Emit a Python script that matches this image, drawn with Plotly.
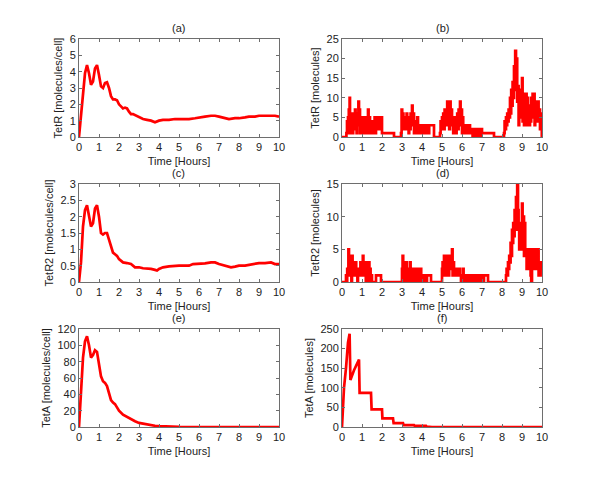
import plotly.graph_objects as go

# ---------------- data ----------------
# (a) TetR mean [molecules/cell]
t_a = [0, 0.1, 0.2, 0.3, 0.4, 0.5, 0.6, 0.7, 0.8, 0.9, 1.0, 1.1, 1.2, 1.3, 1.4, 1.5, 1.6, 1.7, 1.8, 1.9,
       2.0, 2.1, 2.2, 2.3, 2.4, 2.5, 2.6, 2.7, 2.8, 2.9, 3.0, 3.2, 3.4, 3.6, 3.8, 4.0, 4.2, 4.5, 4.8,
       5.0, 5.3, 5.5, 5.8, 6.0, 6.3, 6.6, 6.8, 7.0, 7.2, 7.5, 7.8, 8.0, 8.3, 8.5, 8.8, 9.0, 9.3, 9.5, 9.8, 10.0]
v_a = [0, 1.3, 2.9, 3.9, 4.4, 3.9, 3.2, 3.4, 4.2, 4.4, 3.8, 3.1, 3.0, 3.3, 3.35, 3.0, 2.5, 2.3, 2.3, 2.25,
       2.0, 1.85, 1.75, 1.8, 1.75, 1.55, 1.4, 1.4, 1.35, 1.3, 1.2, 1.1, 1.05, 1.0, 0.9, 1.0, 1.05, 1.05, 1.1,
       1.1, 1.1, 1.1, 1.15, 1.2, 1.25, 1.3, 1.3, 1.25, 1.2, 1.1, 1.15, 1.15, 1.2, 1.25, 1.25, 1.3, 1.3, 1.3, 1.3, 1.25]

# (b) TetR single cell [molecules]
tb_pairs = [(0, 0), (0.22, 1), (0.25, 4), (0.28, 1), (0.30, 5), (0.32, 2), (0.34, 7), (0.36, 3), (0.38, 10),
            (0.40, 4), (0.42, 1), (0.45, 6), (0.48, 2), (0.50, 5), (0.53, 1), (0.56, 4), (0.58, 2), (0.60, 6),
            (0.63, 3), (0.65, 7), (0.68, 2), (0.70, 5), (0.73, 1), (0.76, 6), (0.79, 3), (0.82, 9), (0.85, 4),
            (0.88, 7), (0.90, 1), (0.93, 5), (0.96, 2), (1.00, 4), (1.03, 1), (1.06, 5), (1.09, 2), (1.12, 3),
            (1.15, 1), (1.18, 5), (1.21, 2), (1.24, 4), (1.27, 1), (1.30, 7), (1.33, 3), (1.36, 5), (1.40, 1),
            (1.43, 4), (1.46, 2), (1.50, 3), (1.53, 1), (1.56, 4), (1.60, 2), (1.63, 5), (1.66, 1), (1.70, 4),
            (1.73, 2), (1.76, 5), (1.80, 3), (1.83, 5), (1.86, 2), (1.90, 5), (1.93, 3), (1.96, 5), (2.00, 1),
            (2.60, 0), (2.95, 1), (2.98, 7), (3.01, 4), (3.04, 6), (3.07, 2), (3.10, 5), (3.13, 3), (3.16, 4),
            (3.20, 2), (3.23, 6), (3.26, 3), (3.30, 4), (3.33, 1), (3.36, 5), (3.40, 2), (3.43, 6), (3.46, 3),
            (3.50, 8), (3.53, 4), (3.56, 6), (3.60, 1), (3.63, 3), (3.66, 1), (3.70, 4), (3.73, 2), (3.76, 5),
            (3.80, 1), (3.83, 3), (3.86, 1), (3.90, 3), (3.93, 1), (3.96, 3), (4.00, 1), (4.03, 3), (4.06, 2),
            (4.10, 3), (4.13, 1), (4.16, 3), (4.20, 1), (4.23, 3), (4.26, 2), (4.30, 3), (4.33, 1), (4.36, 3),
            (4.40, 3), (4.60, 0), (4.90, 1), (4.93, 4), (4.96, 2), (5.00, 5), (5.03, 3), (5.06, 6), (5.10, 2),
            (5.13, 7), (5.16, 4), (5.20, 7), (5.23, 3), (5.26, 9), (5.30, 5), (5.33, 7), (5.36, 2), (5.40, 9),
            (5.43, 4), (5.46, 7), (5.50, 3), (5.53, 5), (5.56, 1), (5.60, 4), (5.63, 2), (5.66, 5), (5.70, 1),
            (5.73, 3), (5.76, 6), (5.80, 2), (5.83, 7), (5.86, 4), (5.90, 9), (5.93, 3), (5.96, 7), (6.00, 1),
            (6.03, 5), (6.06, 2), (6.10, 3), (6.13, 1), (6.16, 3), (6.20, 1), (6.23, 3), (6.26, 1), (6.30, 2),
            (6.33, 1), (6.36, 3), (6.40, 1), (6.43, 2), (6.46, 1), (6.50, 2), (6.53, 0), (6.56, 2), (6.60, 1),
            (6.63, 2), (6.66, 0), (6.70, 2), (6.73, 1), (6.76, 2), (6.80, 0), (6.83, 2), (6.86, 1), (6.90, 2),
            (6.93, 0), (6.96, 2), (7.00, 1), (7.60, 0), (8.10, 1), (8.13, 4), (8.16, 2), (8.20, 5), (8.23, 3),
            (8.26, 6), (8.30, 4), (8.33, 7), (8.36, 5), (8.40, 10), (8.43, 6), (8.46, 12), (8.50, 8), (8.53, 14),
            (8.56, 10), (8.60, 18), (8.63, 12), (8.66, 22), (8.70, 15), (8.73, 20), (8.76, 9), (8.80, 13),
            (8.83, 3), (8.86, 8), (8.90, 5), (8.93, 12), (8.96, 7), (9.00, 15), (9.03, 4), (9.06, 11), (9.10, 3),
            (9.13, 9), (9.16, 5), (9.20, 11), (9.23, 3), (9.26, 10), (9.30, 4), (9.33, 8), (9.36, 3), (9.40, 7),
            (9.43, 4), (9.46, 10), (9.50, 5), (9.53, 11), (9.56, 6), (9.60, 11), (9.63, 3), (9.66, 9), (9.70, 5),
            (9.73, 8), (9.76, 4), (9.80, 9), (9.83, 5), (9.86, 7), (9.90, 2), (9.93, 6), (9.96, 3), (9.99, 0),
            (10.0, 0)]
t_b = [p[0] for p in tb_pairs]
v_b = [p[1] for p in tb_pairs]

# (c) TetR2 mean [molecules/cell]
t_c = [0, 0.1, 0.2, 0.3, 0.4, 0.5, 0.6, 0.7, 0.8, 0.9, 1.0, 1.1, 1.2, 1.3, 1.4, 1.5, 1.6, 1.7, 1.8, 1.9,
       2.0, 2.2, 2.4, 2.6, 2.8, 3.0, 3.2, 3.4, 3.6, 3.8, 3.9, 4.0, 4.2, 4.5, 4.8, 5.0, 5.3, 5.5, 5.7, 6.0,
       6.3, 6.6, 6.8, 7.0, 7.3, 7.6, 7.8, 8.0, 8.3, 8.5, 8.8, 9.0, 9.3, 9.6, 9.8, 10.0]
v_c = [0, 0.6, 1.7, 2.2, 2.35, 2.0, 1.7, 1.8, 2.25, 2.35, 2.0, 1.5, 1.45, 1.5, 1.5, 1.3, 1.1, 0.9, 0.85, 0.8,
       0.7, 0.6, 0.58, 0.55, 0.45, 0.45, 0.42, 0.42, 0.4, 0.37, 0.35, 0.4, 0.45, 0.48, 0.5, 0.5, 0.5, 0.5, 0.55, 0.55,
       0.57, 0.6, 0.6, 0.55, 0.5, 0.45, 0.47, 0.5, 0.5, 0.52, 0.55, 0.58, 0.58, 0.6, 0.55, 0.55]

# (d) TetR2 single cell [molecules]
td_pairs = [(0, 0), (0.20, 1), (0.23, 0), (0.26, 2), (0.29, 1), (0.32, 5), (0.35, 2), (0.38, 4), (0.41, 1),
            (0.44, 3), (0.47, 0), (0.50, 4), (0.53, 2), (0.56, 3), (0.59, 1), (0.62, 3), (0.65, 2), (0.68, 3),
            (0.71, 1), (0.74, 2), (0.77, 0), (0.80, 2), (0.83, 1), (0.86, 2), (0.89, 1), (0.92, 3), (0.95, 1),
            (0.98, 2), (1.01, 1), (1.04, 4), (1.07, 2), (1.10, 3), (1.13, 1), (1.16, 2), (1.19, 0), (1.22, 3),
            (1.25, 1), (1.28, 2), (1.31, 0), (1.34, 3), (1.37, 1), (1.40, 2), (1.43, 0), (1.46, 1), (1.50, 0),
            (1.70, 1), (1.95, 0), (3.00, 2), (3.03, 4), (3.06, 1), (3.09, 3), (3.12, 0), (3.15, 2), (3.18, 1),
            (3.21, 3), (3.24, 0), (3.27, 2), (3.30, 1), (3.33, 2), (3.36, 0), (3.40, 3), (3.43, 1), (3.46, 2),
            (3.50, 0), (3.53, 2), (3.56, 1), (3.60, 2), (3.63, 0), (3.66, 1), (3.70, 2), (3.73, 0), (3.76, 2),
            (3.80, 1), (3.83, 0), (3.86, 2), (3.90, 1), (3.93, 2), (3.96, 0), (4.00, 1), (4.05, 0), (4.10, 1),
            (4.20, 0), (4.25, 1), (4.45, 0), (5.00, 2), (5.03, 3), (5.06, 1), (5.10, 4), (5.13, 2), (5.16, 3),
            (5.20, 1), (5.23, 4), (5.26, 2), (5.30, 4), (5.33, 1), (5.36, 3), (5.40, 2), (5.43, 4), (5.46, 2),
            (5.50, 5), (5.53, 1), (5.56, 3), (5.60, 1), (5.63, 2), (5.66, 1), (5.70, 2), (5.73, 1), (5.76, 2),
            (5.80, 1), (5.85, 2), (5.90, 1), (5.95, 0), (6.00, 1), (6.05, 2), (6.08, 0), (6.12, 1), (6.16, 0),
            (6.20, 1), (6.25, 0), (6.30, 1), (6.35, 0), (6.40, 1), (6.45, 0), (6.50, 1), (6.55, 0), (6.60, 1),
            (6.65, 0), (6.70, 1), (6.75, 0), (6.80, 1), (6.85, 0), (6.90, 1), (6.95, 0), (7.00, 1), (7.05, 0),
            (7.10, 1), (7.30, 0), (8.20, 1), (8.23, 2), (8.26, 1), (8.30, 3), (8.33, 2), (8.36, 4), (8.40, 3),
            (8.43, 6), (8.46, 4), (8.50, 8), (8.53, 6), (8.56, 9), (8.60, 7), (8.63, 11), (8.66, 8), (8.70, 13),
            (8.73, 10), (8.76, 15), (8.80, 11), (8.83, 8), (8.86, 5), (8.90, 9), (8.93, 6), (8.96, 5), (9.00, 12),
            (9.03, 7), (9.06, 10), (9.10, 4), (9.13, 9), (9.16, 5), (9.20, 4), (9.23, 2), (9.26, 5), (9.30, 3),
            (9.33, 4), (9.36, 2), (9.40, 5), (9.43, 1), (9.46, 0), (9.50, 3), (9.53, 5), (9.56, 2), (9.60, 4),
            (9.63, 3), (9.66, 5), (9.70, 2), (9.73, 4), (9.76, 3), (9.80, 5), (9.83, 1), (9.86, 3), (9.90, 1),
            (9.93, 3), (9.96, 2), (10.0, 2)]
t_d = [p[0] for p in td_pairs]
v_d = [p[1] for p in td_pairs]

# (e) TetA mean [molecules/cell]
t_e = [0, 0.1, 0.2, 0.3, 0.4, 0.5, 0.6, 0.7, 0.8, 0.9, 1.0, 1.1, 1.2, 1.3, 1.4, 1.5, 1.6, 1.7, 1.8, 1.9,
       2.0, 2.2, 2.4, 2.6, 2.8, 3.0, 3.2, 3.5, 3.8, 4.0, 4.5, 5.0, 6.0, 7.0, 8.0, 9.0, 10.0]
v_e = [0, 45, 85, 105, 111, 100, 85, 88, 94, 92, 75, 62, 56, 54, 50, 42, 33, 30, 28, 24,
       20, 15, 12, 9, 7, 5, 4, 2.5, 1.5, 1.0, 0.5, 0.2, 0, 0, 0, 0, 0]

# (f) TetA single cell [molecules]
t_f = [0, 0.1, 0.2, 0.3, 0.38, 0.42, 0.6, 0.8, 0.85, 0.88, 1.45, 1.48, 2.0, 2.02, 2.55, 2.58, 3.05, 3.08,
       3.6, 3.63, 4.2, 4.23, 4.5, 10.0]
v_f = [0, 100, 150, 215, 238, 120, 145, 168, 172, 87, 87, 45, 45, 22, 22, 10, 10, 5,
       5, 3, 3, 1, 0, 0]

panels = [
    ("(a)", "TetR [molecules/cell]", t_a, v_a, [0, 6], 1, "linear"),
    ("(b)", "TetR [molecules]", t_b, v_b, [0, 25], 5, "hv"),
    ("(c)", "TetR2 [molecules/cell]", t_c, v_c, [0, 3], 0.5, "linear"),
    ("(d)", "TetR2 [molecules]", t_d, v_d, [0, 15], 5, "hv"),
    ("(e)", "TetA [molecules/cell]", t_e, v_e, [0, 120], 20, "linear"),
    ("(f)", "TetA [molecules]", t_f, v_f, [0, 250], 50, "linear"),
]

W, H = 600, 484
OFF = 8  # page body margin offset
xdoms = [(79 - OFF, 279 - OFF), (342 - OFF, 542 - OFF)]
ydoms = [(39 - OFF, 137 - OFF), (184 - OFF, 282 - OFF), (329 - OFF, 427 - OFF)]

fig = go.Figure()
font = dict(family="Liberation Sans, Arial, sans-serif", size=11, color="#222222")
annotations = []
for i, (lab, ytitle, tx, vy, yr, dt, shape) in enumerate(panels):
    r, c = divmod(i, 2)
    n = i + 1
    xs = "" if n == 1 else str(n)
    x0, x1 = xdoms[c]
    y0, y1 = ydoms[r]
    fig.add_trace(go.Scatter(x=tx, y=vy, mode="lines", line=dict(color="#ff0000", width=2.7, shape=shape),
                             xaxis="x" + xs, yaxis="y" + xs, showlegend=False))
    axcommon = dict(showline=True, mirror="ticks", linecolor="#6e6e6e", linewidth=1, ticks="inside",
                    ticklen=3, tickcolor="#6e6e6e", showgrid=False, zeroline=False,
                    tickfont=font, automargin=False)
    fig.layout["xaxis" + xs] = dict(axcommon, domain=[x0 / W, x1 / W], range=[0, 10], dtick=1, tick0=0,
                                    anchor="y" + xs,
                                    title=dict(text="Time [Hours]", font=font, standoff=5))
    fig.layout["yaxis" + xs] = dict(axcommon, domain=[1 - y1 / H, 1 - y0 / H], range=yr, dtick=dt, tick0=0,
                                    anchor="x" + xs,
                                    title=dict(text=ytitle, font=font, standoff=4))
    annotations.append(dict(text=lab, x=(x0 + x1) / 2 / W, y=1 - y0 / H, xref="paper", yref="paper",
                            xanchor="center", yanchor="bottom", yshift=3, showarrow=False, font=font))

fig.update_layout(width=W, height=H, margin=dict(l=0, r=0, t=0, b=0), plot_bgcolor="white",
                  paper_bgcolor="white", annotations=annotations)
fig.write_html("out.html")
